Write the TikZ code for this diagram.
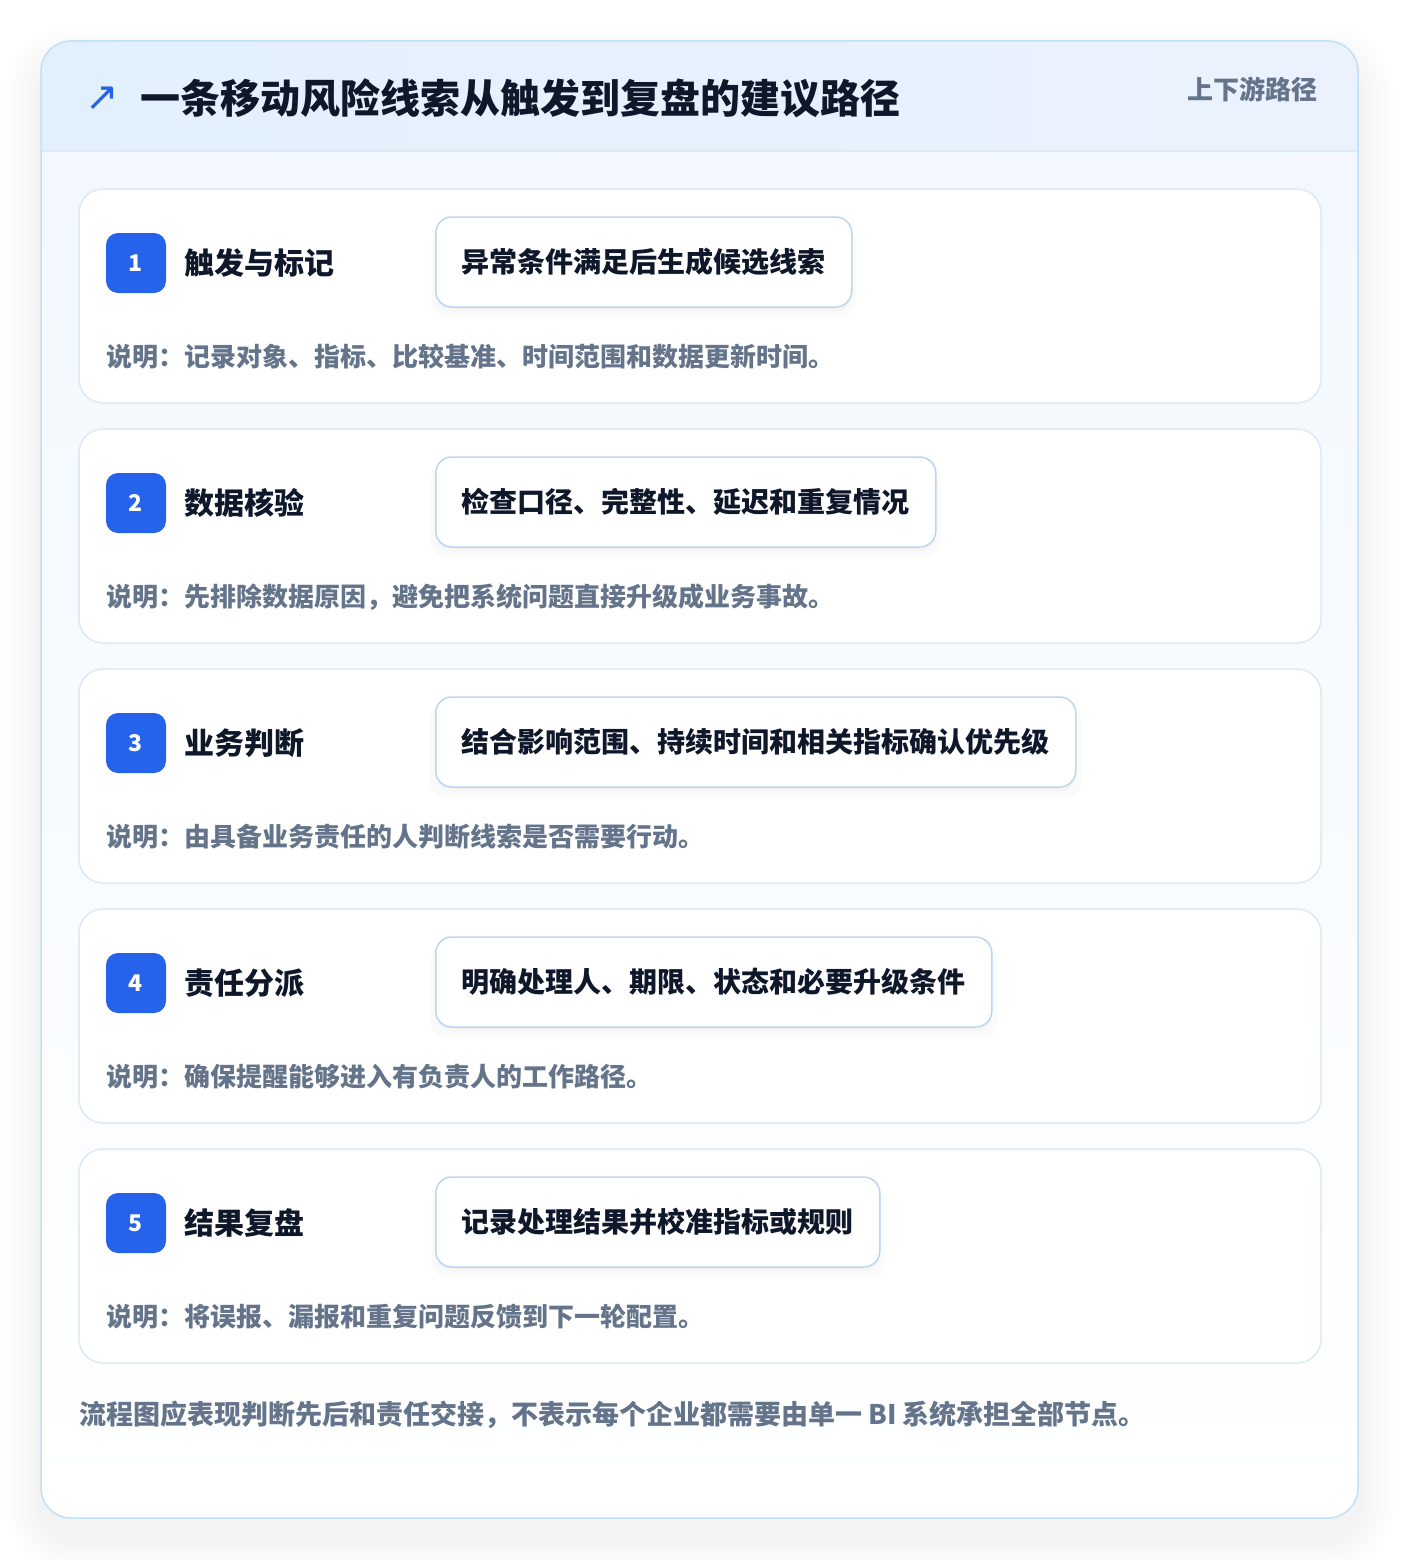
\documentclass[tikz,border=0pt]{standalone}
\usepackage{fontspec}
\setmainfont{Noto Sans CJK SC}
\newfontfamily\symfont{DejaVu Sans}
\usetikzlibrary{positioning, calc, shadows}

\definecolor{brandblue}{HTML}{2563EB}
\definecolor{ink}{HTML}{0F172A}
\definecolor{muted}{HTML}{64748B}
\definecolor{cardline}{HTML}{BFE0F6}
\definecolor{stepline}{HTML}{DCE9F6}
\definecolor{boxline}{HTML}{BCD5F2}
\definecolor{headleft}{HTML}{E2F0FD}
\definecolor{headright}{HTML}{EBF2FE}
\definecolor{bodytop}{HTML}{F2F8FE}

\begin{document}
\begin{tikzpicture}[x=1pt,y=-1pt,font=\bfseries]
\tikzstyle{badge}=[rectangle,rounded corners=12pt,fill=brandblue,text=white,minimum width=60pt,minimum height=60pt,inner sep=0pt,font=\fontsize{23}{26}\selectfont\bfseries]
\tikzstyle{steptitle}=[inner sep=0pt,text=ink,font=\fontsize{30}{36}\selectfont\bfseries]
\tikzstyle{checkbox}=[rectangle,rounded corners=16pt,draw=boxline,line width=1.5pt,fill=white,minimum height=90pt,inner xsep=26pt,text=ink,font=\fontsize{28}{34}\selectfont\bfseries,
  drop shadow={shadow xshift=0pt,shadow yshift=-4pt,opacity=0.025,fill=black},
  drop shadow={shadow xshift=0pt,shadow yshift=-9pt,shadow scale=1.02,opacity=0.02,fill=black}]
\tikzstyle{note}=[inner sep=0pt,text=muted,font=\fontsize{26}{30}\selectfont\bfseries]

\useasboundingbox (0,0) rectangle (1400,1560);
\fill[white] (0,0) rectangle (1400,1560);

% soft shadow of the outer card
\foreach \s in {3,6,...,36}
  \fill[black,opacity=0.0055,rounded corners=30+\s] (41-\s,63-\s) rectangle (1358+\s,1536+\s);

% outer card with header
\begin{scope}
  \clip[rounded corners=30pt] (41,41) rectangle (1358,1518);
  \shade[top color=bodytop,bottom color=white] (41,151) rectangle (1358,1518);
  \shade[left color=headleft,right color=headright] (41,41) rectangle (1358,151);
  \draw[stepline,line width=1.5pt] (41,151) -- (1358,151);
\end{scope}
\draw[cardline,line width=1.5pt,rounded corners=30pt] (41,41) rectangle (1358,1518);

\node[text=brandblue,inner sep=0pt,font=\fontsize{40}{44}\selectfont\symfont] (icon) at (102,99) {↗};
\node[anchor=west,inner sep=0pt,text=ink,font=\fontsize{40}{48}\selectfont\bfseries] (heading) at (140,98) {一条移动风险线索从触发到复盘的建议路径};
\node[anchor=east,inner sep=0pt,text=muted,font=\fontsize{26}{32}\selectfont\bfseries] (tag) at (1318,89) {上下游路径};

% five steps
\foreach \n/\ttl/\chk/\nt [evaluate=\n as \cardtop using 189+240*(\n-1)] in {
  1/触发与标记/异常条件满足后生成候选线索/说明：记录对象、指标、比较基准、时间范围和数据更新时间。,
  2/数据核验/检查口径、完整性、延迟和重复情况/说明：先排除数据原因，避免把系统问题直接升级成业务事故。,
  3/业务判断/结合影响范围、持续时间和相关指标确认优先级/说明：由具备业务责任的人判断线索是否需要行动。,
  4/责任分派/明确处理人、期限、状态和必要升级条件/说明：确保提醒能够进入有负责人的工作路径。,
  5/结果复盘/记录处理结果并校准指标或规则/说明：将误报、漏报和重复问题反馈到下一轮配置。}
{
  \draw[stepline,line width=1.5pt,fill=white,rounded corners=24pt] (79,\cardtop) rectangle (1321,\cardtop+214);
  \node[badge] (badge\n) at (136,\cardtop+74) {\n};
  \node[steptitle,right=18pt of badge\n] (title\n) {\ttl};
  \node[checkbox,anchor=west] (check\n) at (435,\cardtop+73) {\chk};
  \node[note,anchor=west] (note\n) at (106,\cardtop+168) {\nt};
}

\node[anchor=west,inner sep=0pt,text=muted,font=\fontsize{27}{32}\selectfont\bfseries] (footer) at (79,1415) {流程图应表现判断先后和责任交接，不表示每个企业都需要由单一 BI 系统承担全部节点。};
\end{tikzpicture}
\end{document}
